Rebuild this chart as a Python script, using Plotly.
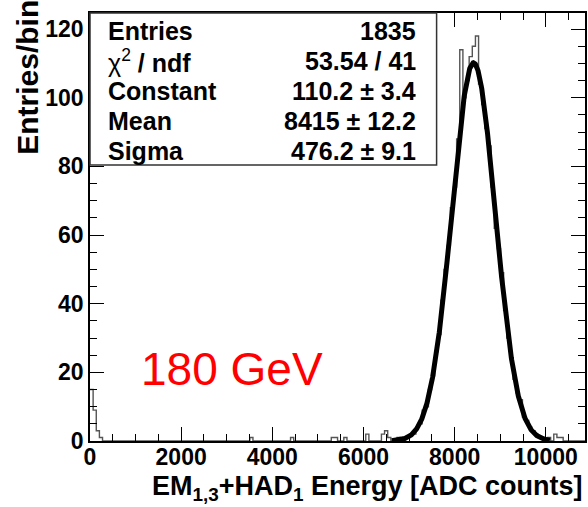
import numpy as np
import plotly.graph_objects as go

# ---- histogram content (non-empty bins) ----
BIN_WIDTH = 68.75          # ADC counts per bin
N_BINS = 158
bin_index = [0, 1, 2, 3, 51, 64, 77, 78, 81, 88, 93, 94, 95,
             98, 100, 101, 102, 103, 104, 105, 106, 107, 108, 109, 110,
             111, 112, 113, 114, 115, 116, 117, 118, 119, 120, 121, 122,
             123, 124, 125, 126, 127, 128, 129, 130, 131, 132, 133, 134,
             135, 136, 137, 138, 139, 140, 141, 142, 143, 144, 146, 148,
             149, 150]
bin_counts = [15, 9, 3, 1, 1, 1, 1, 1, 1, 2, 2, 3, 1,
              1, 1, 1, 2, 2, 4, 5, 9, 10, 15, 19, 26,
              31, 41, 50, 57, 68, 74, 88, 114, 100, 105, 112, 115,
              118, 104, 98, 91, 86, 74, 62, 56, 49, 38, 30, 24,
              18, 14, 12, 7, 6, 4, 3, 2, 1, 1, 1, 2,
              1, 1]

# ---- gaussian fit result ----
fit_constant = 110.2
fit_mean = 8415.0
fit_sigma = 476.2
fit_range = [6620.0, 10090.0]

stat_names = ["Entries", "\u03c7<sup>2</sup> <b>/ ndf</b>", "Constant", "Mean", "Sigma"]
stat_values = ["1835", "53.54 / 41", "110.2 \u00b1 3.4", "8415 \u00b1 12.2", "476.2 \u00b1 9.1"]

x_ticks = [0, 2000, 4000, 6000, 8000, 10000]
y_ticks = [0, 20, 40, 60, 80, 100, 120]
X_MAX = 10860
Y_MAX = 124.7

# full step outline of the histogram
counts = np.zeros(N_BINS)
counts[bin_index] = bin_counts
edges = np.arange(N_BINS + 1) * BIN_WIDTH
step_x = edges
step_y = np.append(counts, counts[-1])

fx = np.linspace(fit_range[0], fit_range[1], 600)
fy = fit_constant * np.exp(-0.5 * ((fx - fit_mean) / fit_sigma) ** 2)

W, H = 588, 507
L, R, T, B = 90, 1, 13, 66
pw, ph = W - L - R, H - T - B


def px(xp):
    return (xp - L) / pw


def py(yp):
    return (H - B - yp) / ph


FONT = "Liberation Sans"

fig = go.Figure()
fig.add_trace(go.Scatter(x=step_x, y=step_y, mode="lines", line_shape="hv",
                         line=dict(color="#555555", width=1.4),
                         hoverinfo="skip", showlegend=False))
fig.add_trace(go.Scatter(x=fx, y=fy, mode="lines",
                         line=dict(color="black", width=5),
                         hoverinfo="skip", showlegend=False))

axis_common = dict(showline=True, linecolor="black", linewidth=1.5,
                   mirror="allticks", ticks="inside", tickcolor="black",
                   tickwidth=1.3, ticklen=14, showgrid=False, zeroline=False,
                   tickfont=dict(family=FONT, size=23, color="black", weight="bold"))

fig.update_xaxes(range=[0, X_MAX], tickvals=x_ticks,
                 ticktext=[str(v) for v in x_ticks], ticklabelstandoff=-5,
                 minor=dict(dtick=500, tick0=0, ticks="inside", ticklen=7,
                            tickcolor="black", tickwidth=1.3),
                 **axis_common)
fig.update_yaxes(range=[0, Y_MAX], tickvals=y_ticks,
                 ticktext=[str(v) for v in y_ticks],
                 minor=dict(dtick=5, tick0=0, ticks="inside", ticklen=7,
                            tickcolor="black", tickwidth=1.3),
                 **axis_common)

# statistics box
fig.add_shape(type="rect", xref="paper", yref="paper",
              x0=0, x1=px(438), y0=py(165), y1=1,
              line=dict(color="#333333", width=1.5), fillcolor="white", layer="above")
for i, (name, val) in enumerate(zip(stat_names, stat_values)):
    yc = py(31 + 30 * i)
    fig.add_annotation(xref="paper", yref="paper", x=px(106), y=yc,
                       text=name, showarrow=False, xanchor="left", yanchor="middle",
                       font=dict(family=FONT, size=25, color="black",
                                 weight="normal" if i == 1 else "bold"))
    fig.add_annotation(xref="paper", yref="paper", x=px(419), y=yc,
                       text=val, showarrow=False, xanchor="right", yanchor="middle",
                       font=dict(family=FONT, size=25, color="black", weight="bold"))

fig.add_annotation(xref="paper", yref="paper", x=px(139), y=py(369),
                   text="180 GeV", showarrow=False, xanchor="left", yanchor="middle",
                   font=dict(family=FONT, size=46, color="red"))

fig.add_annotation(xref="paper", yref="paper", x=px(587), y=py(488),
                   text="EM<sub>1,3</sub>+HAD<sub>1</sub> Energy [ADC counts]",
                   showarrow=False, xanchor="right", yanchor="middle",
                   font=dict(family=FONT, size=27, color="black", weight="bold"))
fig.add_annotation(xref="paper", yref="paper", x=px(27), y=py(-2),
                   text="Entries/bin", textangle=-90, showarrow=False,
                   xanchor="center", yanchor="top",
                   font=dict(family=FONT, size=30, color="black", weight="bold"))

fig.update_layout(width=W, height=H, margin=dict(l=L, r=R, t=T, b=B),
                  paper_bgcolor="white", plot_bgcolor="white")

fig.write_html("out.html")
